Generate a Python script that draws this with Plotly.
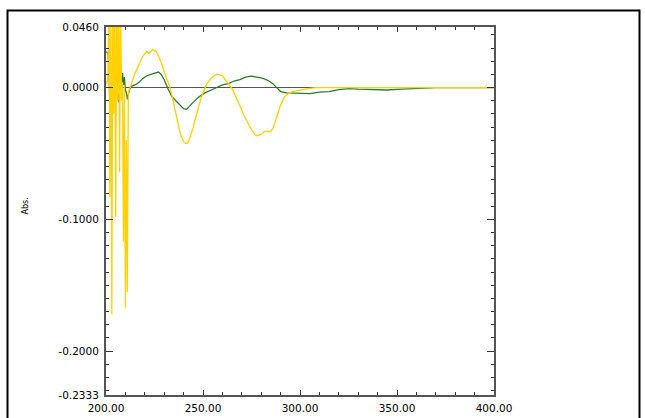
import plotly.graph_objects as go

# ---- data ----
yellow_x = [200.0, 200.5, 201.0, 201.5, 202.0, 202.5, 203.0, 203.5, 204.0, 204.5, 205.0, 205.5,
            206.0, 206.5, 207.0, 207.5, 208.0, 208.5, 209.0, 209.5, 210.0, 210.5, 211.0, 211.5,
            212, 213, 214, 215, 216, 217, 218, 219, 220, 221, 222, 223, 224, 225, 226, 227, 228,
            229, 230, 231, 232, 233, 234, 235, 236, 237, 238, 239, 240, 241, 242, 243, 244, 245,
            246, 247, 248, 249, 250, 251, 252, 253, 254, 255, 256, 257, 258, 259, 260, 261, 262,
            263, 264, 265, 266, 267, 268, 269, 270, 271, 272, 273, 274, 275, 276, 277, 278, 279,
            280, 281, 282, 283, 284, 285, 286, 287, 288, 289, 290, 291, 292, 293, 294, 295, 296,
            298, 300, 302, 305, 308, 320, 340, 360, 380, 400]
yellow_y = [0.005, 0.003, 0.010, 0.080, -0.083, 0.080, -0.172, 0.080, -0.020, 0.080, -0.098, 0.080,
            -0.010, 0.080, -0.064, 0.070, -0.010, 0.004, -0.117, 0.002, -0.167, -0.040, -0.155, -0.003,
            -0.002, 0.003, 0.007, 0.011, 0.014, 0.018, 0.021, 0.024, 0.026, 0.0275, 0.026, 0.027, 0.029,
            0.028, 0.027, 0.024, 0.021, 0.017, 0.012, 0.008, 0.004, 0.000, -0.006, -0.013, -0.020,
            -0.027, -0.033, -0.038, -0.041, -0.0425, -0.042, -0.039, -0.035, -0.030, -0.024, -0.018,
            -0.013, -0.008, -0.004, 0.000, 0.003, 0.005, 0.007, 0.008, 0.009, 0.010, 0.010, 0.0095,
            0.009, 0.007, 0.005, 0.003, 0.001, -0.001, -0.004, -0.007, -0.010, -0.014, -0.017, -0.021,
            -0.024, -0.027, -0.030, -0.032, -0.034, -0.036, -0.0365, -0.036, -0.0355, -0.034, -0.033,
            -0.033, -0.0335, -0.033, -0.031, -0.027, -0.022, -0.017, -0.013, -0.010, -0.007, -0.006,
            -0.0045, -0.004, -0.003, -0.0025, -0.0018, -0.001, -0.0005, 0.000, 0.000, 0.000, 0.000,
            0.000, 0.000]

green_x = [200.0, 200.5, 201.0, 201.5, 202.0, 202.5, 203.0, 203.5, 204.0, 204.5, 205.0, 205.5,
           206.0, 206.5, 207.0, 207.5, 208.0, 208.5, 209.0, 209.5, 210.0, 210.5, 211.0, 211.5,
           212.0, 213, 215, 217, 219, 221, 223, 225, 227, 228.5, 230, 232, 234, 236, 238, 240,
           241.5, 243, 245, 248, 251, 254, 257, 260, 263, 266, 269, 272, 275, 278, 281, 284, 286,
           288, 290, 293, 296, 300, 305, 310, 315, 320, 325, 330, 335, 340, 345, 350, 355, 360,
           365, 370, 380, 390, 400]
green_y = [0.027, 0.027, 0.026, 0.015, -0.015, -0.042, -0.025, -0.005, 0.000, 0.003, -0.002, 0.002,
           -0.005, -0.011, -0.003, 0.004, 0.000, 0.011, 0.002, 0.008, -0.002, -0.004, -0.009, -0.006,
           -0.002, 0.001, 0.002, 0.004, 0.007, 0.009, 0.010, 0.011, 0.0118, 0.010, 0.006, -0.001,
           -0.007, -0.010, -0.013, -0.016, -0.0165, -0.014, -0.011, -0.007, -0.004, -0.002, 0.000,
           0.002, 0.003, 0.005, 0.006, 0.008, 0.0087, 0.008, 0.007, 0.005, 0.003, 0.000, -0.003,
           -0.004, -0.0042, -0.0045, -0.0045, -0.0035, -0.003, -0.0015, -0.0008, -0.0012, -0.0015,
           -0.002, -0.0018, -0.0014, -0.0011, -0.0008, -0.0002, 0.000, 0.000, 0.000, 0.000]

x_tickvals = [200, 250, 300, 350, 400]
x_ticktext = ["200.00", "250.00", "300.00", "350.00", "400.00"]
y_tickvals = [0.046, 0.0, -0.1, -0.2, -0.2333]
y_ticktext = ["0.0460", "0.0000", "-0.1000", "-0.2000", "-0.2333"]

W, H = 645, 418
L, R, T, B = 106, 151, 27, 23
pw, ph = W - L - R, H - T - B

def px(x):
    return (x - L) / pw

def py(y):
    return (H - B - y) / ph

fig = go.Figure()
fig.add_trace(go.Scatter(x=green_x, y=green_y, mode="lines",
                         line=dict(color="#2A7D2A", width=1.3), showlegend=False,
                         hoverinfo="skip"))
fig.add_trace(go.Scatter(x=yellow_x, y=yellow_y, mode="lines",
                         line=dict(color="#FFD100", width=1.3), showlegend=False,
                         hoverinfo="skip"))

axis_common = dict(showline=True, linecolor="#555555", linewidth=2, mirror="ticks",
                   ticks="inside", tickcolor="#333333", showgrid=False, automargin=False,
                   tickfont=dict(family="DejaVu Sans", size=10.5, color="black"))

fig.update_xaxes(range=[200, 400], tickmode="array", tickvals=x_tickvals, ticktext=x_ticktext,
                 ticklen=5, zeroline=False, ticklabelstandoff=2,
                 minor=dict(ticks="inside", ticklen=3, dtick=10, tick0=200, tickcolor="#333333"),
                 **axis_common)
fig.update_yaxes(range=[-0.2333, 0.046], tickmode="array", tickvals=y_tickvals, ticktext=y_ticktext,
                 ticklen=7, zeroline=True, zerolinecolor="#555555", zerolinewidth=1,
                 ticklabelstandoff=3,
                 minor=dict(ticks="inside", ticklen=3, dtick=0.01, tick0=0, tickcolor="#333333"),
                 **axis_common)

fig.add_shape(type="rect", xref="paper", yref="paper",
              x0=px(7.5), x1=px(639.5), y0=py(430), y1=py(10.5),
              line=dict(color="black", width=2), fillcolor="rgba(0,0,0,0)")

fig.add_annotation(text="Abs.", xref="paper", yref="paper", x=px(18), y=py(206),
                   textangle=-90, showarrow=False, font=dict(family="DejaVu Sans", size=8, color="black"))
fig.add_annotation(text="nm", xref="paper", yref="paper", x=px(300), y=py(413.5),
                   yanchor="top", showarrow=False,
                   font=dict(family="DejaVu Sans", size=9, color="black"))

fig.update_layout(width=W, height=H, margin=dict(l=L, r=R, t=T, b=B, autoexpand=False),
                  paper_bgcolor="white", plot_bgcolor="white", hovermode=False)

fig.write_html("out.html", config={"displayModeBar": False},
               post_script="document.body.style.margin='0';")
